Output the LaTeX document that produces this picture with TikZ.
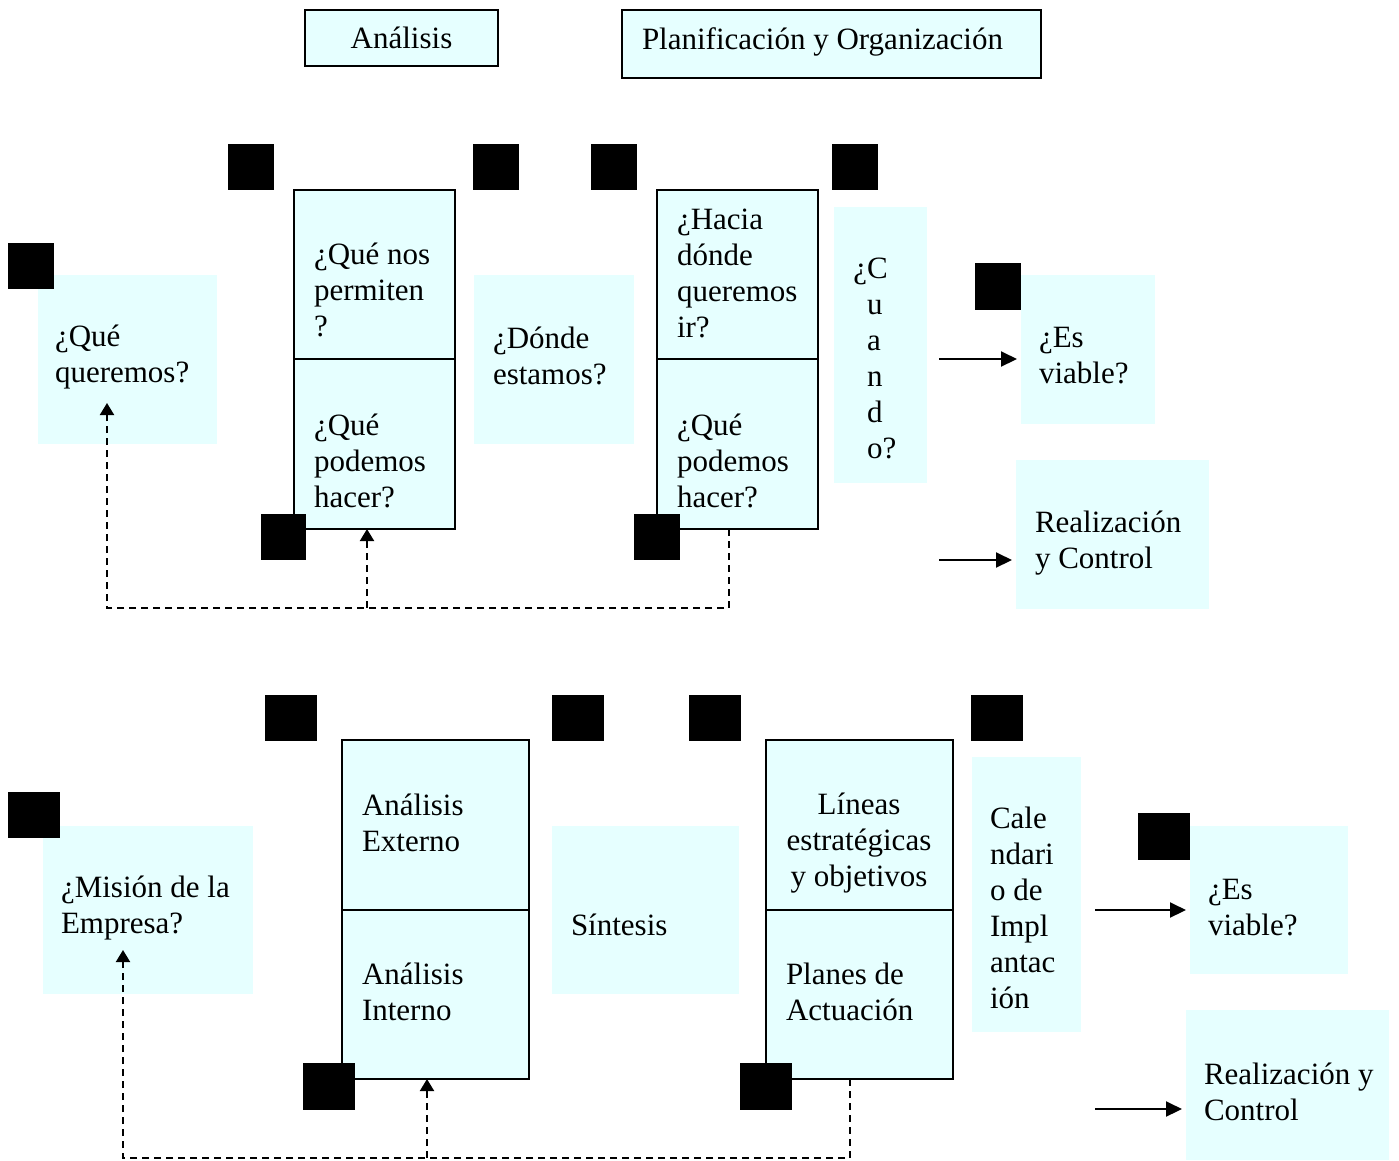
\documentclass[tikz,border=0pt]{standalone}
\usepackage{fontspec}
\setmainfont{Liberation Serif}
\usetikzlibrary{arrows.meta,fit}
\definecolor{paleaqua}{RGB}{230,255,255}
\begin{document}
\begin{tikzpicture}[x=1pt,y=-1pt,
  every node/.style={inner sep=0pt, outer sep=0pt},
  txt/.style={font=\fontsize{31}{36}\selectfont, align=left, anchor=west},
  ctxt/.style={font=\fontsize{31}{36}\selectfont, align=center},
  shade/.style={fill=paleaqua, draw=none},
  framed/.style={fill=paleaqua, draw=black, line width=2pt},
  marker/.style={fill=black, draw=none},
  solidarrow/.style={line width=2pt, shorten >=4pt, -{Triangle[length=16pt,width=15pt]}},
  dasharrow/.style={line width=2pt, dash pattern=on 7pt off 5pt, -{Triangle[length=12pt,width=14pt]}},
]
\useasboundingbox (0,0) rectangle (1399,1160);

% ---- headings ----
\node[framed, fit={(305,10) (498,66)}] (tA) {};
\node[ctxt] (tAt) at (tA.center) {Análisis};
\node[framed, fit={(622,10) (1041,78)}] (tP) {};
\node[txt] (tPt) at (642,42) {Planificación y Organización};

% ---- upper row: questions ----
\node[shade, fit={(38,275) (217,444)}] (q1) {};
\node[txt] (q1t) at (55,357.5) {¿Qué\\queremos?};
\node[framed, fit={(294,190) (455,359)}] (s1a) {};
\node[framed, fit={(294,359) (455,529)}] (s1b) {};
\node[txt] (s1at) at (314,290) {¿Qué nos\\permiten\\?};
\node[txt] (s1bt) at (314,461) {¿Qué\\podemos\\hacer?};
\node[shade, fit={(474,275) (634,444)}] (q2) {};
\node[txt] (q2t) at (493,356) {¿Dónde\\estamos?};
\node[framed, fit={(657,190) (818,359)}] (s2a) {};
\node[framed, fit={(657,359) (818,529)}] (s2b) {};
\node[txt] (s2at) at (677,273) {¿Hacia\\dónde\\queremos\\ir?};
\node[txt] (s2bt) at (677,461) {¿Qué\\podemos\\hacer?};
\node[shade, fit={(834,207) (927,483)}] (q3) {};
\node[txt] (q3t) at (867,358) {\llap{¿}C\\u\\a\\n\\d\\o?};
\node[shade, fit={(1021,275) (1155,424)}] (q4) {};
\node[txt] (q4t) at (1039,356) {¿Es\\viable?};
\node[shade, fit={(1016,460) (1209,609)}] (q5) {};
\node[txt] (q5t) at (1035,543.5) {Realización\\y Control};

% ---- lower row: answers ----
\node[shade, fit={(43,826) (253,994)}] (m1) {};
\node[txt] (m1t) at (61,908) {¿Misión de la\\Empresa?};
\node[framed, fit={(342,740) (529,910)}] (s3a) {};
\node[framed, fit={(342,910) (529,1079)}] (s3b) {};
\node[txt] (s3at) at (362,822.5) {Análisis\\Externo};
\node[txt] (s3bt) at (362,991.5) {Análisis\\Interno};
\node[shade, fit={(552,826) (739,994)}] (sy) {};
\node[txt] (syt) at (571,925) {Síntesis};
\node[framed, fit={(766,740) (953,910)}] (s4a) {};
\node[framed, fit={(766,910) (953,1079)}] (s4b) {};
\node[ctxt] (s4at) at (859,843.5) {Líneas\\estratégicas\\y objetivos};
\node[txt] (s4bt) at (786,991.5) {Planes de\\Actuación};
\node[shade, fit={(972,757) (1081,1032)}] (ca) {};
\node[txt] (cat) at (990,908) {Cale\\ndari\\o de\\Impl\\antac\\ión};
\node[shade, fit={(1190,826) (1348,974)}] (e2) {};
\node[txt] (e2t) at (1208,907.5) {¿Es\\viable?};
\node[shade, fit={(1186,1010) (1389,1160)}] (r2) {};
\node[txt] (r2t) at (1204,1091.5) {Realización y\\Control};

% ---- feedback (dashed) ----
\coordinate (u1) at (729,608);
\coordinate (u2) at (107,608);
\coordinate (u3) at (107,403);
\coordinate (u4) at (367,608);
\draw[dasharrow] (u1 |- s2b.south) -- (u1) -- (u2) -- (u3);
\draw[dasharrow] (u4) -- (u4 |- s1b.south);

\coordinate (l1) at (850,1158);
\coordinate (l2) at (123,1158);
\coordinate (l3) at (123,950);
\coordinate (l4) at (427,1158);
\draw[dasharrow] (l1 |- s4b.south) -- (l1) -- (l2) -- (l3);
\draw[dasharrow] (l4) -- (l4 |- s3b.south);

% ---- forward arrows ----
\coordinate (a1) at (939,359);
\coordinate (a2) at (939,560);
\coordinate (a3) at (1095,910);
\coordinate (a4) at (1095,1109);
\draw[solidarrow] (a1) -- (a1 -| q4.west);
\draw[solidarrow] (a2) -- (a2 -| q5.west);
\draw[solidarrow] (a3) -- (a3 -| e2.west);
\draw[solidarrow] (a4) -- (a4 -| r2.west);

% ---- black markers ----
\node[marker, fit={(228,144) (274,190)}] (k1) {};
\node[marker, fit={(473,144) (519,190)}] (k2) {};
\node[marker, fit={(591,144) (637,190)}] (k3) {};
\node[marker, fit={(832,144) (878,190)}] (k4) {};
\node[marker, fit={(8,243) (54,289)}] (k5) {};
\node[marker, fit={(975,263) (1021,310)}] (k6) {};
\node[marker, fit={(261,514) (306,560)}] (k7) {};
\node[marker, fit={(634,514) (680,560)}] (k8) {};
\node[marker, fit={(265,695) (317,741)}] (k9) {};
\node[marker, fit={(552,695) (604,741)}] (k10) {};
\node[marker, fit={(689,695) (741,741)}] (k11) {};
\node[marker, fit={(971,695) (1023,741)}] (k12) {};
\node[marker, fit={(8,792) (60,838)}] (k13) {};
\node[marker, fit={(1138,813) (1190,860)}] (k14) {};
\node[marker, fit={(303,1063) (355,1110)}] (k15) {};
\node[marker, fit={(740,1063) (792,1110)}] (k16) {};
\end{tikzpicture}
\end{document}
